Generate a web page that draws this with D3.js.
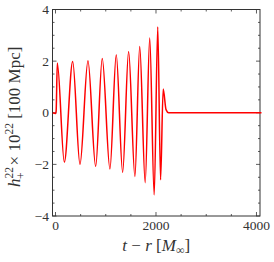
<!doctype html>
<html>
<head>
<meta charset="utf-8">
<script src="https://cdn.jsdelivr.net/npm/d3@7"></script>
<style>
  body { margin: 0; background: #fff; }
  text { font-family: "Liberation Serif", "DejaVu Serif", serif; fill: #333; }
</style>
</head>
<body>
<script>
// waveform: times of turning points and their amplitudes
const times = [-55, 0, 12, 36, 175, 342, 487, 646, 799, 930, 1083, 1209, 1336, 1455, 1580, 1676, 1785, 1875, 1964, 2035, 2091, 2143, 2200, 2250, 4100];
const strain = [0, -0.03, 0.05, 1.93, -1.91, 1.99, -2.0, 2.01, -2.08, 2.1, -2.18, 2.25, -2.31, 2.37, -2.47, 2.57, -2.71, 2.9, -3.18, 3.32, -2.6, 0.92, 0.12, 0, 0];
const xTicks = [0, 2000, 4000];
const yTicks = [-4, -2, 0, 2, 4];

const W = 274, H = 262;
const m = {left: 52.5, right: 14, top: 9.5, bottom: 46};

const x = d3.scaleLinear().domain([-60, 4070]).range([m.left, W - m.right]);
const y = d3.scaleLinear().domain([-4, 4]).range([H - m.bottom, m.top]);

const svg = d3.select('body').append('svg').attr('width', W).attr('height', H);

// frame
svg.append('rect')
    .attr('x', m.left).attr('y', m.top)
    .attr('width', W - m.right - m.left).attr('height', H - m.bottom - m.top)
    .attr('fill', 'none').attr('stroke', '#333').attr('stroke-width', 1);

const x0 = m.left, x1 = W - m.right, y0 = H - m.bottom, y1 = m.top;
const ticks = svg.append('g').attr('stroke', '#333').attr('stroke-width', 0.8);

d3.range(0, 4001, 500).forEach(v => {
  const len = v % 2000 === 0 ? 4 : 2;
  ticks.append('line').attr('x1', x(v)).attr('x2', x(v)).attr('y1', y0).attr('y2', y0 - len);
  ticks.append('line').attr('x1', x(v)).attr('x2', x(v)).attr('y1', y1).attr('y2', y1 + len);
});
d3.range(-4, 4.01, 0.5).forEach(v => {
  const len = v % 2 === 0 ? 4 : 2;
  ticks.append('line').attr('y1', y(v)).attr('y2', y(v)).attr('x1', x0).attr('x2', x0 + len);
  ticks.append('line').attr('y1', y(v)).attr('y2', y(v)).attr('x1', x1).attr('x2', x1 - len);
});

svg.selectAll('text.xt').data(xTicks).enter().append('text')
    .attr('x', d => x(d)).attr('y', y0 + 14)
    .attr('text-anchor', 'middle').attr('font-size', 13.5)
    .text(d => d);

svg.selectAll('text.yt').data(yTicks).enter().append('text')
    .attr('x', x0 - 3.5).attr('y', d => y(d) + 4.5)
    .attr('text-anchor', 'end').attr('font-size', 13.5)
    .text(d => d < 0 ? '\u2212' + (-d) : d);

// x label
const xl = svg.append('text')
    .attr('x', (x0 + x1) / 2).attr('y', H - 11)
    .attr('text-anchor', 'middle').attr('font-size', 17);
xl.append('tspan').attr('font-style', 'italic').text('t');
xl.append('tspan').text(' \u2212 ');
xl.append('tspan').attr('font-style', 'italic').text('r');
xl.append('tspan').text(' [');
xl.append('tspan').attr('font-style', 'italic').text('M');
xl.append('tspan').attr('font-size', 12).attr('dy', 3).text('\u221e');
xl.append('tspan').attr('dy', -3).text(']');

// y label
const yl = svg.append('text')
    .attr('transform', `translate(20,${(y0 + y1) / 2 + 4}) rotate(-90)`)
    .attr('text-anchor', 'middle').attr('font-size', 17);
yl.append('tspan').attr('font-style', 'italic').text('h');
yl.append('tspan').attr('font-size', 11.5).attr('dy', -7).text('22');
yl.append('tspan').attr('font-size', 11.5).attr('dx', -12).attr('dy', 12).text('+');
yl.append('tspan').attr('dy', -5).attr('dx', 7).text('\u00d7 10');
yl.append('tspan').attr('font-size', 11.5).attr('dy', -7).text('22');
yl.append('tspan').attr('dy', 7).text(' [100 Mpc]');

const line = d3.line()
    .x((d, i) => x(times[i]))
    .y(d => y(d))
    .curve(d3.curveMonotoneX);

svg.append('path')
    .attr('d', line(strain))
    .attr('fill', 'none').attr('stroke', '#ff0000').attr('stroke-width', 1.5);
</script>
</body>
</html>
